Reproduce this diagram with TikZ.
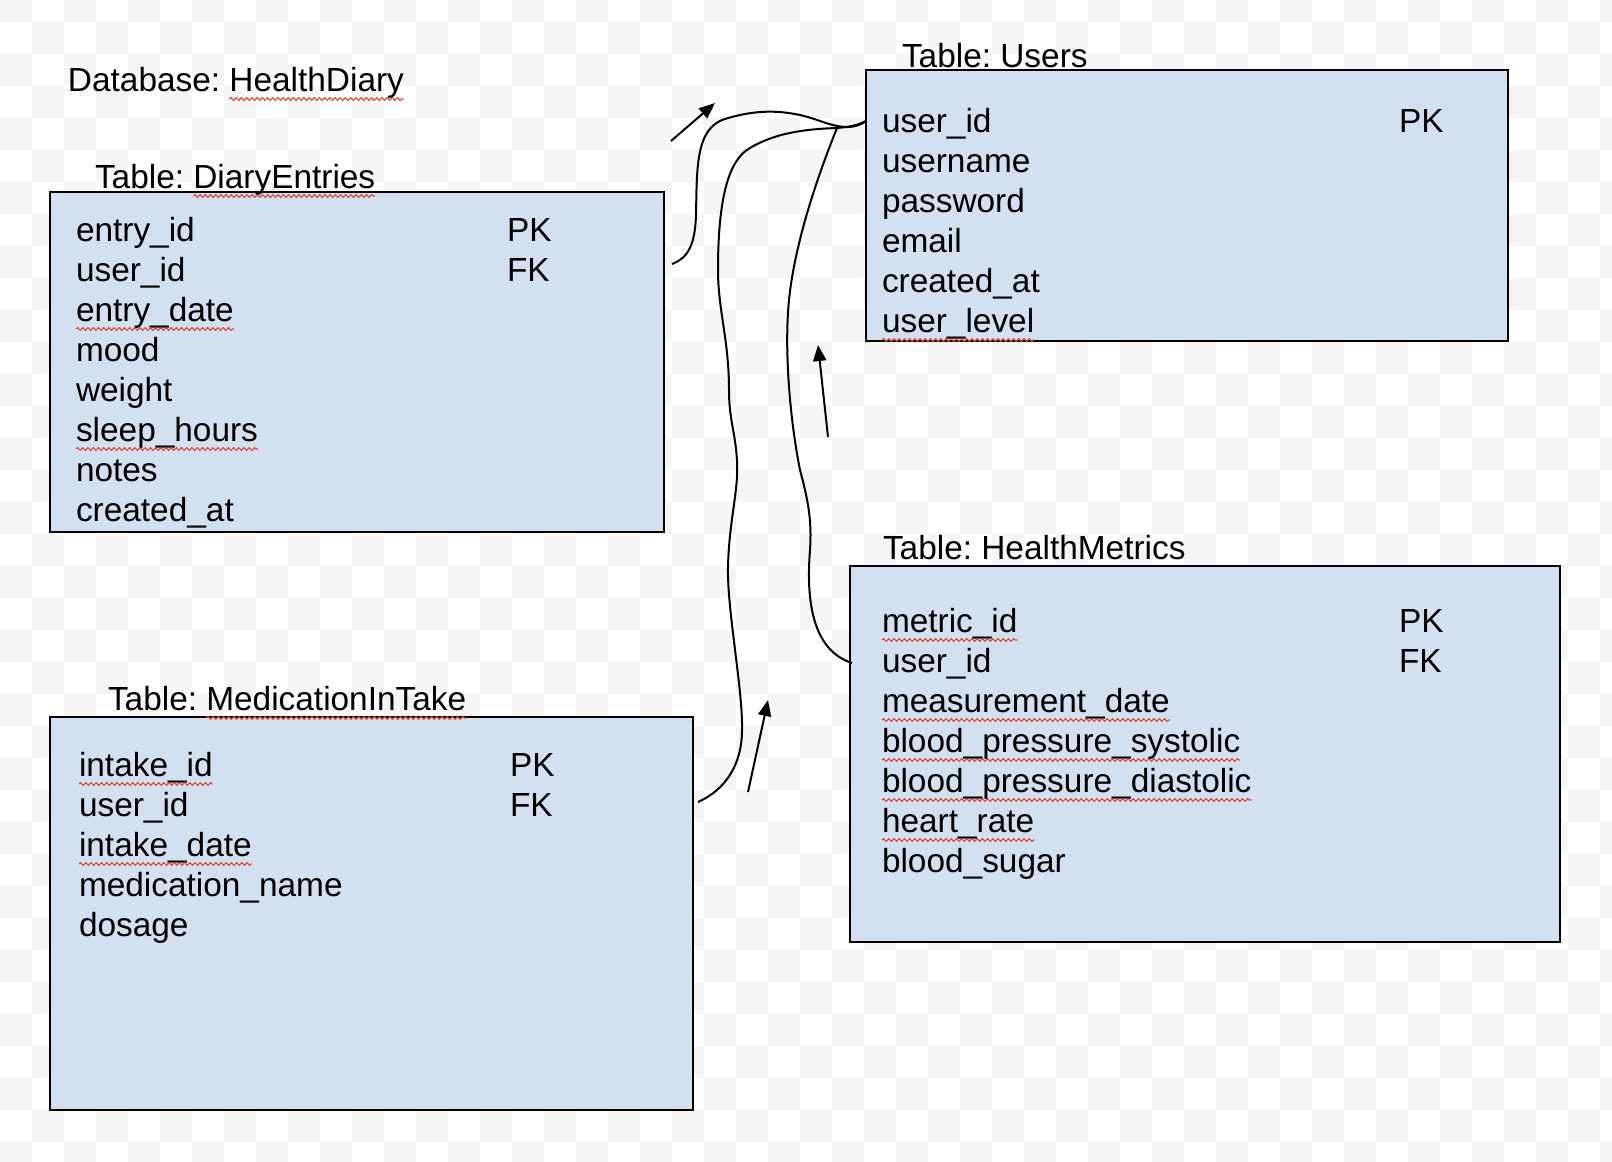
\documentclass[tikz,border=0pt]{standalone}
\usepackage{fontspec}
\setmainfont{Liberation Sans}
\usetikzlibrary{arrows.meta,decorations.pathmorphing,fit}
\definecolor{boxfill}{HTML}{D3E0F0}
\definecolor{chkgray}{HTML}{F5F5F5}
\definecolor{spellred}{HTML}{E0453A}
\frenchspacing
\begin{document}
\begin{tikzpicture}[x=0.5pt,y=-0.5pt,
  txt/.style={inner sep=0pt, outer sep=0pt, anchor=base west, font=\fontsize{16.7}{20}\selectfont\frenchspacing},
  tbl/.style={draw=black, line width=1pt, fill=boxfill, inner sep=0pt, outer sep=0pt},
  link/.style={line width=1pt, draw=black},
  arr/.style={line width=1pt, draw=black, -{Triangle[length=8pt,width=6.5pt]}},
  spell/.style={draw=spellred, line width=0.55pt, decorate, decoration={snake, amplitude=0.7pt, segment length=2.6pt}}]
\useasboundingbox (0,0) rectangle (1612,1162);
% background checkerboard
\begin{scope}
\clip (0,0) rectangle (1612,1162);
\fill[white] (0,0) rectangle (1612,1162);
\foreach \r in {-1,...,35} {
  \pgfmathtruncatemacro\s{mod(\r+2,2)}
  \foreach \k in {0,...,25} {
    \fill[chkgray] ({32*(1-\s+2*\k)},{22+32*\r}) rectangle ++(32,32);
  }
}
\end{scope}
% tables
\node[tbl, fit={(50,192) (664,532)}] (de) {};
\node[tbl, fit={(866,70) (1508,341)}] (us) {};
\node[tbl, fit={(850,566) (1560,942)}] (hm) {};
\node[tbl, fit={(50,717) (693,1110)}] (mi) {};
% database title
\node[txt] (dbt) at (68,91) {Database:};
\node[txt] (dbn) at ([xshift=4.6pt]dbt.base east) {HealthDiary};
% table titles
\node[txt] (det) at (95,188) {Table:};
\node[txt] (den) at ([xshift=4.6pt]det.base east) {DiaryEntries};
\node[txt] (ust) at (902,67) {Table: Users};
\node[txt] (hmt) at (883,559) {Table: HealthMetrics};
\node[txt] (mit) at (108,710) {Table:};
\node[txt] (min) at ([xshift=4.6pt]mit.base east) {MedicationInTake};
% DiaryEntries fields
\foreach \fld [count=\i] in {entry\_id,user\_id,entry\_date,mood,weight,sleep\_hours,notes,created\_at}
  \node[txt] (de-\i) at (76,{241+40*(\i-1)}) {\fld};
\node[txt] (de-pk) at (507,241) {PK};
\node[txt] (de-fk) at (507,281) {FK};
% Users fields
\foreach \fld [count=\i] in {user\_id,username,password,email,created\_at,user\_level}
  \node[txt] (us-\i) at (882,{132+40*(\i-1)}) {\fld};
\node[txt] (us-pk) at (1399,132) {PK};
% HealthMetrics fields
\foreach \fld [count=\i] in {metric\_id,user\_id,measurement\_date,blood\_pressure\_systolic,blood\_pressure\_diastolic,heart\_rate,blood\_sugar}
  \node[txt] (hm-\i) at (882,{632+40*(\i-1)}) {\fld};
\node[txt] (hm-pk) at (1399,632) {PK};
\node[txt] (hm-fk) at (1399,672) {FK};
% MedicationInTake fields
\foreach \fld [count=\i] in {intake\_id,user\_id,intake\_date,medication\_name,dosage}
  \node[txt] (mi-\i) at (79,{776+40*(\i-1)}) {\fld};
\node[txt] (mi-pk) at (510,776) {PK};
\node[txt] (mi-fk) at (510,816) {FK};
% spell-check underlines
\foreach \n in {dbn,den,min,de-3,de-6,us-6,mi-1,mi-3,hm-1,hm-3,hm-4,hm-5,hm-6}
  \draw[spell] ([yshift=-4pt]\n.base west) -- ([yshift=-4pt]\n.base east);
% connector end points
\coordinate (aS) at (672,264);
\coordinate (aE) at (866,121);
\coordinate (bS) at (698,802);
\coordinate (jn) at (837,128);
\coordinate (cE) at (852,663);
\coordinate (a1s) at (671,141);
\coordinate (a1e) at (715,103);
\coordinate (a2s) at (828,437);
\coordinate (a2e) at (818,345);
\coordinate (a3s) at (748,792);
\coordinate (a3e) at (768,700);
% curve DiaryEntries.user_id -> Users.user_id
\draw[link] (aS) .. controls (688,258) and (695,245) .. (696,215)
  .. controls (697,170) and (695,128) .. (725,119)
  .. controls (760,108) and (790,110) .. (820,121)
  .. controls (845,130) and (856,128) .. (aE);
% curve MedicationInTake.user_id -> junction
\draw[link] (bS) .. controls (725,790) and (742,765) .. (742,730)
  .. controls (743,690) and (727,610) .. (728,567)
  .. controls (729,520) and (739,490) .. (737,460)
  .. controls (735,430) and (729,420) .. (729,390)
  .. controls (729,340) and (718,310) .. (718,270)
  .. controls (718,200) and (728,160) .. (750,148)
  .. controls (775,133) and (805,129) .. (jn);
% junction -> users
\draw[link] (jn) .. controls (848,127) and (856,126) .. (aE);
% curve junction -> HealthMetrics.user_id
\draw[link] (jn) .. controls (820,170) and (795,240) .. (789,300)
  .. controls (784,350) and (790,420) .. (800,470)
  .. controls (808,500) and (812,520) .. (810,550)
  .. controls (806,600) and (812,650) .. (cE);
% free arrows
\draw[arr] (a1s) -- (a1e);
\draw[arr] (a2s) -- (a2e);
\draw[arr] (a3s) -- (a3e);
\end{tikzpicture}
\end{document}
